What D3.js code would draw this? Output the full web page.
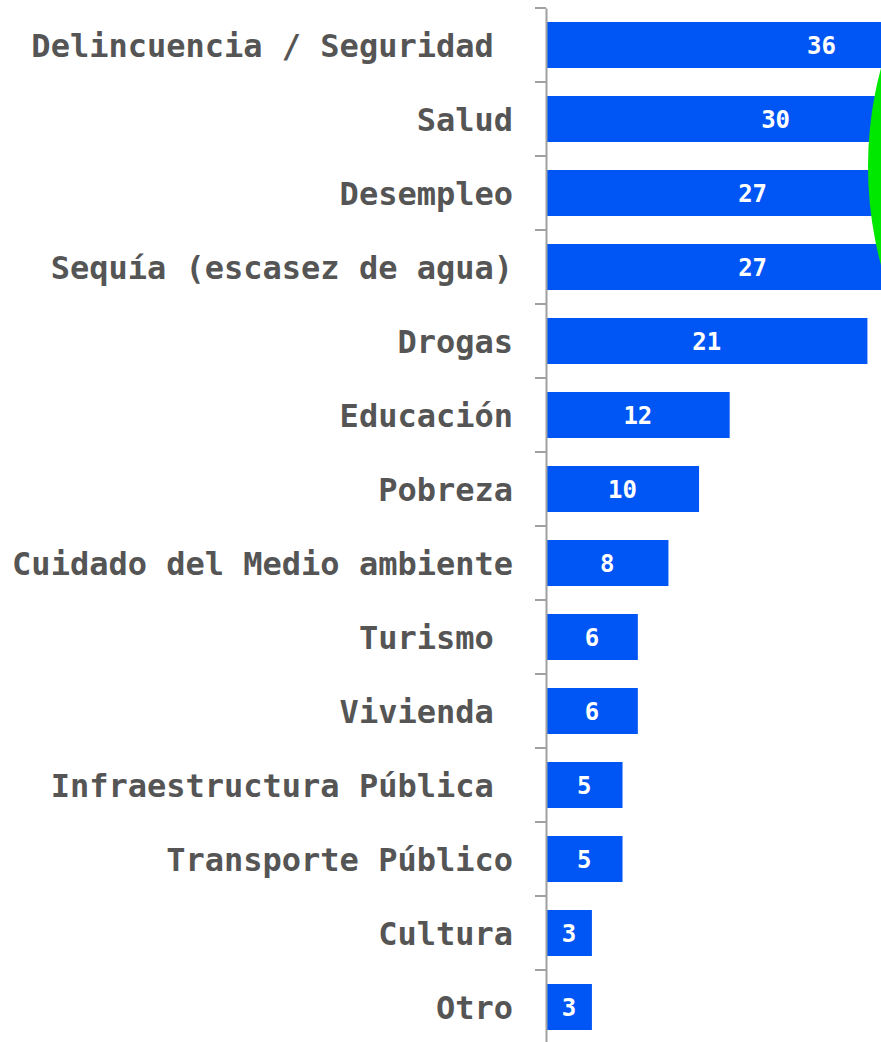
<!DOCTYPE html>
<html>
<head>
<meta charset="utf-8">
<script src="https://cdn.jsdelivr.net/npm/d3@7"></script>
<style>
  html, body { margin: 0; padding: 0; background: #fff; overflow: hidden; }
  svg { display: block; }
  text { white-space: pre; }
</style>
</head>
<body>
<script>
const categories = [
  "Delincuencia / Seguridad ",
  "Salud",
  "Desempleo",
  "Sequía (escasez de agua)",
  "Drogas",
  "Educación",
  "Pobreza",
  "Cuidado del Medio ambiente",
  "Turismo ",
  "Vivienda ",
  "Infraestructura Pública ",
  "Transporte Público",
  "Cultura",
  "Otro"
];
const values = [36, 30, 27, 27, 21, 12, 10, 8, 6, 6, 5, 5, 3, 3];

const W = 881, H = 1042;
const axisX = 546;
const svg = d3.select("body").append("svg")
  .attr("width", W).attr("height", H);

const y = d3.scaleBand()
  .domain(categories)
  .range([8, 8 + categories.length * 74])
  .paddingInner(28 / 74)
  .paddingOuter(14 / 74);

const x = d3.scaleLinear().domain([0, 36]).range([axisX, axisX + 551]);

const data = categories.map((c, i) => ({ c, v: values[i] }));

svg.selectAll("rect.bar").data(data).join("rect")
  .attr("class", "bar")
  .attr("x", x(0))
  .attr("y", d => y(d.c))
  .attr("width", d => x(d.v) - x(0))
  .attr("height", y.bandwidth())
  .attr("fill", "#0055f5");

svg.selectAll("text.val").data(data).join("text")
  .attr("class", "val")
  .attr("x", d => (x(0) + x(d.v)) / 2)
  .attr("y", d => y(d.c) + y.bandwidth() / 2)
  .attr("dy", "0.36em")
  .attr("text-anchor", "middle")
  .attr("fill", "#fff")
  .attr("font-family", "'DejaVu Sans Mono', monospace")
  .attr("font-weight", "bold")
  .attr("font-size", 24)
  .text(d => d.v);

// green circle overlapping the right edge (on top of bars)
svg.append("circle")
  .attr("cx", 1248).attr("cy", 166.5).attr("r", 380)
  .attr("fill", "#00e800");

// axis
const ax = svg.append("g").attr("transform", `translate(${axisX},0)`)
  .call(d3.axisLeft(y).tickSize(0).tickSizeOuter(0).tickPadding(33));
ax.select(".domain").attr("stroke", "#a0a0a0").attr("stroke-width", 2);
ax.selectAll(".tick text")
  .attr("fill", "#555")
  .attr("font-family", "'DejaVu Sans Mono', monospace")
  .attr("font-weight", "bold")
  .attr("font-size", 32)
  .attr("dy", "0.38em");

// tick marks at band boundaries
const bounds = categories.map(c => y(c) - y.step() * y.paddingInner() / 2);
ax.selectAll("line.bt").data(bounds).join("line")
  .attr("class", "bt")
  .attr("x1", -11).attr("x2", 0)
  .attr("y1", d => d).attr("y2", d => d)
  .attr("stroke", "#a0a0a0").attr("stroke-width", 2);
</script>
</body>
</html>
